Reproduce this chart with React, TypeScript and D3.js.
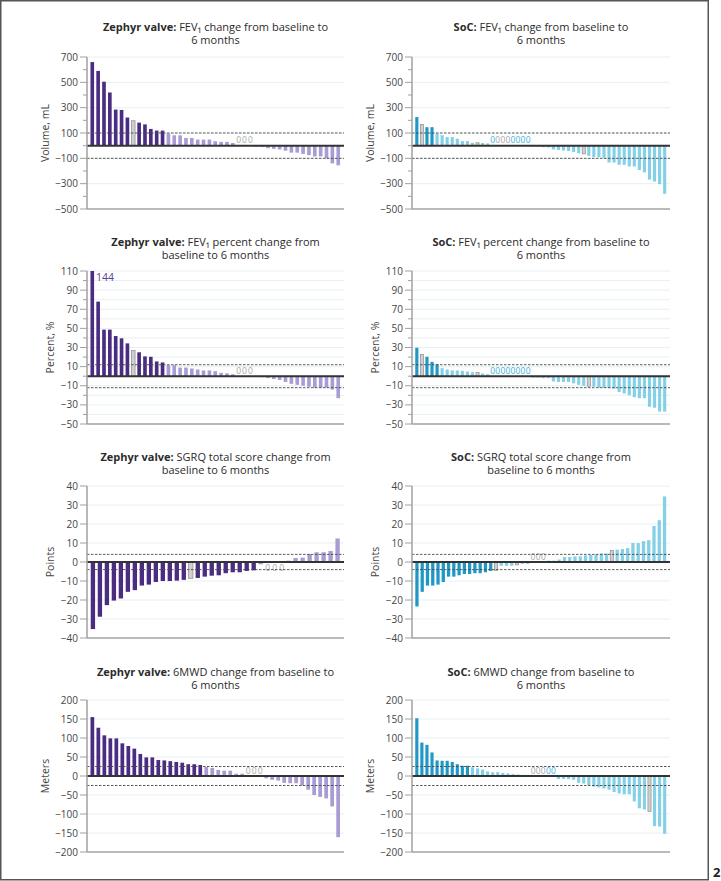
import React from 'react';
import * as d3 from 'd3';

// --- data ---
const zephyrFev1Ml = [660, 590, 505, 420, 285, 282, 222, 197, 182, 168, 132, 119, 119, 95, 82, 82, 61, 61, 48, 48, 48, 35, 30, 30, 21, 0, 0, 0, -8, -10, -20, -25, -30, -40, -55, -55, -65, -75, -85, -85, -100, -140, -155];
const zephyrFev1Pct = [144, 78, 48.7, 48.7, 42, 39.6, 34.3, 27, 25, 20.7, 20.3, 15.4, 14.4, 11.5, 11.5, 9, 9, 8, 7, 6, 6, 5.3, 3.5, 3, 2, 0, 0, 0, -0.5, -1, -2, -3, -4, -6, -8, -9, -10, -11, -12, -12, -12, -14, -23];
const zephyrSgrq = [-35.3, -28.8, -22.7, -20.3, -19.2, -15.7, -14.8, -12.4, -11.9, -10.5, -10, -10, -9.8, -9.4, -8.6, -8.4, -7.7, -7.2, -7, -5.9, -5.4, -5.4, -4.7, -4.4, -1.2, 0, 0, 0, 0.7, 2.1, 2.3, 4.2, 5.1, 5.1, 5.8, 12.4];
const zephyr6mwd = [155, 127, 107, 99, 99, 86, 79, 72, 58, 49, 49, 42, 41, 39, 37, 35, 31, 31, 29, 23.6, 21, 16, 14, 14, 6, 6, 0, 0, 0, -6, -10, -12, -18, -19, -19, -25, -36, -50, -55, -59, -80, -161];

const socFev1Ml = [226, 167, 146, 146, 96, 83, 68, 68, 55, 36, 36, 23, 23, 21, 18, 0, 0, 0, 0, 0, 0, 0, 0, -8, -8, -12, -14, -30, -34, -38, -42, -50, -60, -65, -80, -90, -91, -95, -133, -133, -151, -151, -164, -164, -192, -211, -268, -284, -304, -380];
const socFev1Pct = [29.8, 22.8, 20.3, 15, 12.5, 8.4, 7, 6, 6, 5.6, 4.9, 4.2, 3.9, 2.8, 2.1, 0, 0, 0, 0, 0, 0, 0, 0, -1.5, -1.5, -2, -2, -5.5, -6, -6, -6, -7.5, -9, -10, -10.5, -11, -12, -12, -12.5, -13, -16.5, -18, -20, -22, -23, -23, -32, -33, -37, -37];
const socSgrq = [-23.4, -15.7, -12.4, -12.4, -11.9, -10.5, -7.7, -7.7, -7, -6.3, -6.3, -5.9, -5.9, -5.4, -4.7, -4.4, -2, -2, -2, -1.5, -1, -1, 0, 0, 0, 0.7, 0.7, 1.3, 2.6, 2.6, 3, 3, 3.5, 3.8, 4, 4.5, 4.5, 6, 6.5, 6.8, 7.3, 10, 10, 11, 11.5, 19, 22, 34.5];
const soc6mwd = [152, 88, 82, 62, 41, 40, 40, 37, 31, 27, 27, 23, 20, 17, 12, 10, 10, 8, 7, 5, 4, 3, 2, 0, 0, 0, 0, 0, -8, -8, -8, -10, -18, -20, -24, -28, -30, -33, -36, -42, -46, -48, -48, -67, -85, -88, -93, -132, -133, -152];

// bars drawn in grey (by index)
const greyZephyr = [[7], [7], [14], []];
const greySoc = [[1, 12, 33], [1, 12, 34], [15, 19, 37], [46]];

// colours of the "0" labels in SoC panels (g = grey, b = blue)
const socZeroColours = [
  ['b', 'g', 'g', 'g', 'b', 'b', 'b', 'b'],
  ['b', 'b', 'b', 'b', 'b', 'b', 'b', 'b'],
  ['g', 'g', 'g'],
  ['g', 'g', 'g', 'b', 'b'],
];

// MCID thresholds (dashed lines)
const thresholds = [100, 12, 4, 25];
const yDomains = [[-500, 700], [-50, 110], [-40, 40], [-200, 200]];
const majorTicks = [
  [700, 500, 300, 100, -100, -300, -500],
  [110, 90, 70, 50, 30, 10, -10, -30, -50],
  [40, 30, 20, 10, 0, -10, -20, -30, -40],
  [200, 150, 100, 50, 0, -50, -100, -150, -200],
];
const minorTicks = [
  [600, 400, 200, 0, -200, -400],
  [100, 80, 60, 40, 20, 0, -20, -40],
  [],
  [],
];
const yLabels = ['Volume, mL', 'Percent, %', 'Points', 'Meters'];
const titleZephyr = [
  ['FEV\u2081 change from baseline to', '6 months'],
  ['FEV\u2081 percent change from', 'baseline to 6 months'],
  ['SGRQ total score change from', 'baseline to 6 months'],
  ['6MWD change from baseline to', '6 months'],
];
const titleSoc = [
  ['FEV\u2081 change from baseline to', '6 months'],
  ['FEV\u2081 percent change from baseline to', '6 months'],
  ['SGRQ total score change from', 'baseline to 6 months'],
  ['6MWD change from baseline to', '6 months'],
];

const FONT = "'Open Sans', 'Noto Sans', sans-serif";
const cols = [{ x0: 87, x1: 344 }, { x0: 412, x1: 670 }];
const rows = [
  { top: 57, bottom: 209, t1: 31, lab: 42 },
  { top: 271, bottom: 424, t1: 246, lab: 37 },
  { top: 486, bottom: 638, t1: 461, lab: 37 },
  { top: 700, bottom: 852, t1: 676, lab: 42 },
];

const palettes: any = {
  zephyr: { dark: '#4a2c83', light: '#a99bd3', zero: '#a8a8a8', label: '#5b3f95' },
  soc: { dark: '#1f98c5', light: '#84d0e6', zero: '#a8a8a8', label: '#3bb2dc' },
};

const fmt = (v: number) => (v < 0 ? '\u2212' + Math.abs(v) : String(v));

function Panel({ row, col, values, grey, zeroCols, group }: any) {
  const { x0, x1 } = cols[col];
  const r = rows[row];
  const pal = palettes[group];
  const thr = thresholds[row];
  const y = d3.scaleLinear().domain(yDomains[row]).range([r.bottom, r.top]);
  const x = d3
    .scaleBand<number>()
    .domain(d3.range(values.length))
    .range([x0 + 2, x1 - 2.5])
    .paddingInner(0.38)
    .paddingOuter(0.25);
  const bw = x.bandwidth();
  const y0 = y(0);
  const gridVals = row === 1 ? [...majorTicks[row], ...minorTicks[row]] : majorTicks[row];
  const responder = (v: number) => (row === 2 ? v <= -thr : v >= thr);
  let zi = 0;
  const title = group === 'zephyr' ? titleZephyr[row] : titleSoc[row];
  const cx = (x0 + x1) / 2;
  // Zephyr SGRQ zeros sit just under the zero line
  const zeroY = group === 'zephyr' && row === 2 ? y0 + 8.5 : y0 - 2.5;

  return (
    <g>
      <text x={cx} y={r.t1} textAnchor="middle" fontSize={11} fill="#2b2b2b" fontFamily={FONT}>
        <tspan fontWeight="bold">{group === 'zephyr' ? 'Zephyr valve:' : 'SoC:'}</tspan>
        <tspan>{' ' + title[0]}</tspan>
        <tspan x={cx} dy={12.5}>{title[1]}</tspan>
      </text>

      {gridVals.map((t) => (
        <line key={'g' + t} x1={x0} x2={x1} y1={y(t)} y2={y(t)} stroke="#e2ecec" strokeWidth={0.8} />
      ))}

      {values.map((v: number, i: number) => {
        if (v === 0) {
          const c = group === 'zephyr' ? 'g' : zeroCols[zi];
          zi++;
          return (
            <text
              key={i}
              x={x(i)! + bw / 2}
              y={zeroY}
              textAnchor="middle"
              fontSize={8.5}
              fontFamily={FONT}
              fill={c === 'b' ? pal.label : pal.zero}
            >
              0
            </text>
          );
        }
        const isGrey = grey.includes(i);
        const top = Math.max(y(Math.max(0, v)), r.top);
        const bot = y(Math.min(0, v));
        return (
          <rect
            key={i}
            x={x(i)}
            y={top}
            width={bw}
            height={bot - top}
            fill={isGrey ? '#cfcfcf' : responder(v) ? pal.dark : pal.light}
            stroke={isGrey ? '#8e8e8e' : 'none'}
            strokeWidth={isGrey ? 0.7 : 0}
          />
        );
      })}

      {[thr, -thr].map((t) => (
        <line key={'d' + t} x1={x0} x2={x1} y1={y(t)} y2={y(t)} stroke="#4a4a4a" strokeWidth={0.9} strokeDasharray="2.5 1.5" />
      ))}
      <line x1={x0} x2={x1} y1={y0} y2={y0} stroke="#333" strokeWidth={2} />

      <line x1={x0} x2={x1} y1={r.bottom} y2={r.bottom} stroke="#a6a6a6" strokeWidth={1.5} />
      <line x1={x0} x2={x0} y1={r.top} y2={r.bottom} stroke="#a0a0a0" strokeWidth={1.5} />
      {majorTicks[row].map((t) => (
        <g key={'t' + t}>
          <line x1={x0 - 7} x2={x0} y1={y(t)} y2={y(t)} stroke="#a0a0a0" strokeWidth={1} />
          <text x={x0 - 9} y={y(t)} dy="0.35em" textAnchor="end" fontSize={10} fill="#454545" fontFamily={FONT}>
            {fmt(t)}
          </text>
        </g>
      ))}
      {minorTicks[row].map((t) => (
        <line key={'m' + t} x1={x0 - 4} x2={x0} y1={y(t)} y2={y(t)} stroke="#a0a0a0" strokeWidth={1} />
      ))}
      <text
        transform={`translate(${x0 - r.lab},${(r.top + r.bottom) / 2}) rotate(-90)`}
        textAnchor="middle"
        dy="0.35em"
        fontSize={10.5}
        fill="#454545"
        fontFamily={FONT}
      >
        {yLabels[row]}
      </text>

      {values[0] > yDomains[row][1] && (
        <text x={x(0)! + bw + 2} y={r.top + 10} fontSize={10.5} fill={pal.label} fontFamily={FONT}>
          {values[0]}
        </text>
      )}
    </g>
  );
}

export default function App() {
  const zephyr = [zephyrFev1Ml, zephyrFev1Pct, zephyrSgrq, zephyr6mwd];
  const soc = [socFev1Ml, socFev1Pct, socSgrq, soc6mwd];
  return (
    <div style={{ position: 'absolute', left: 0, top: 0 }}>
      <svg width={721} height={881} style={{ display: 'block', background: '#fff' }}>
        <rect x={0.75} y={0.75} width={707.5} height={879} fill="none" stroke="#555" strokeWidth={1.5} />
        {zephyr.map((vals, row) => (
          <Panel key={'z' + row} row={row} col={0} values={vals} grey={greyZephyr[row]} group="zephyr" />
        ))}
        {soc.map((vals, row) => (
          <Panel key={'s' + row} row={row} col={1} values={vals} grey={greySoc[row]} zeroCols={socZeroColours[row]} group="soc" />
        ))}
        <text x={713} y={877} fontSize={13} fontWeight="bold" fill="#222" fontFamily={FONT}>
          2
        </text>
      </svg>
    </div>
  );
}
